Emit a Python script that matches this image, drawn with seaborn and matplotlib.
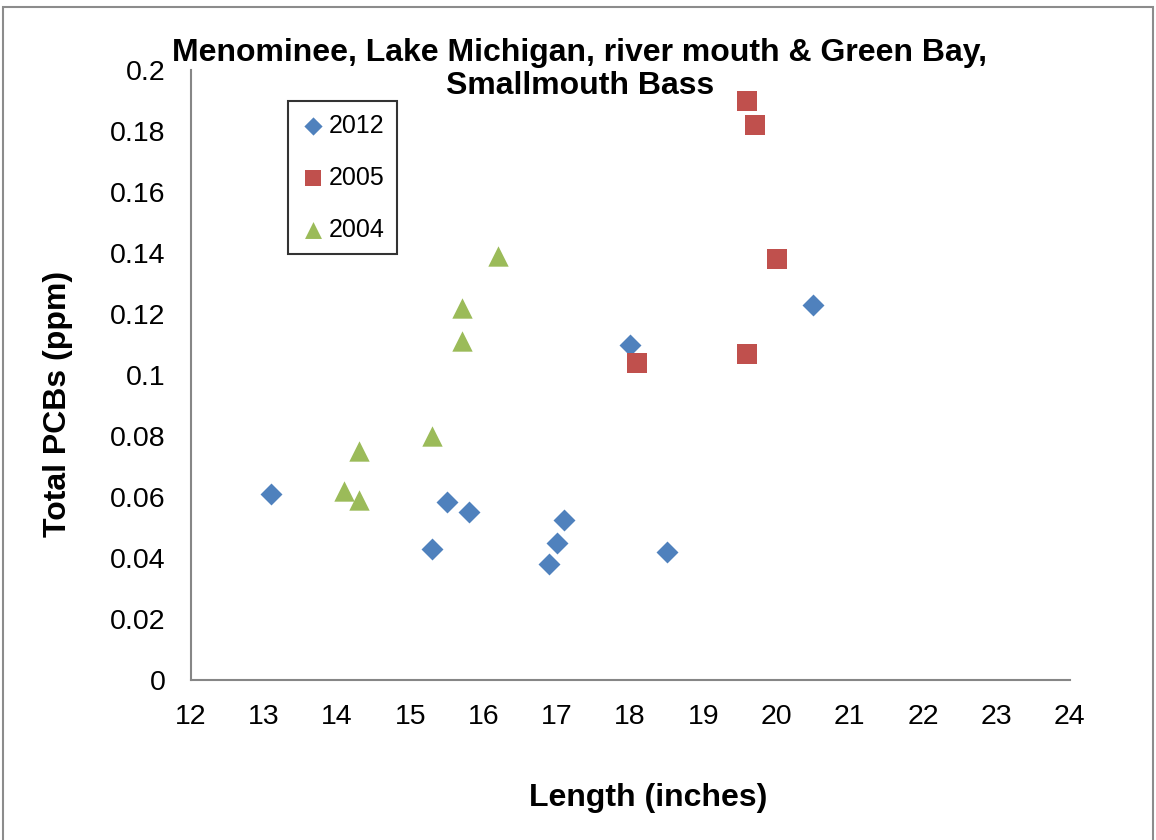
import matplotlib
matplotlib.use("Agg")
import matplotlib.pyplot as plt
import pandas as pd
import seaborn as sns
from matplotlib.patches import Rectangle

# lengths (inches) and total PCBs (ppm) per sampling year
len_2012 = [13.1, 15.3, 15.5, 15.8, 16.9, 17.0, 17.1, 18.5, 18.0, 20.5]
pcb_2012 = [0.061, 0.043, 0.0585, 0.055, 0.038, 0.045, 0.0525, 0.042, 0.110, 0.123]
len_2005 = [19.6, 19.7, 20.0, 18.1, 19.6]
pcb_2005 = [0.190, 0.182, 0.138, 0.104, 0.107]
len_2004 = [16.2, 15.7, 15.7, 15.3, 14.3, 14.1, 14.3]
pcb_2004 = [0.139, 0.122, 0.111, 0.080, 0.075, 0.062, 0.059]

years = ["2012", "2005", "2004"]
colors = {"2012": "#4F81BD", "2005": "#C0504D", "2004": "#9BBB59"}
markers = {"2012": "D", "2005": "s", "2004": "^"}
sizes = {"2012": 125, "2005": 212, "2004": 215}

df = pd.DataFrame({
    "Length": len_2012 + len_2005 + len_2004,
    "PCB": pcb_2012 + pcb_2005 + pcb_2004,
    "Year": ["2012"] * len(len_2012) + ["2005"] * len(len_2005) + ["2004"] * len(len_2004),
})

sns.set_style("white")
plt.rcParams["font.family"] = ["Liberation Sans", "DejaVu Sans"]
plt.rcParams["text.color"] = "black"
plt.rcParams["xtick.color"] = "black"
plt.rcParams["ytick.color"] = "black"
plt.rcParams["axes.labelcolor"] = "black"

fig = plt.figure(figsize=(11.56, 8.40), dpi=100)
ax = fig.add_axes([190.5 / 1156, 160 / 840, 879 / 1156, 610 / 840])

for yr in years:
    sns.scatterplot(data=df[df["Year"] == yr], x="Length", y="PCB",
                    color=colors[yr], marker=markers[yr], s=sizes[yr],
                    linewidth=0, label=yr, ax=ax)

ax.set_xlim(12, 24)
ax.set_ylim(0, 0.2)
ax.set_xticks(range(12, 25))
ax.set_yticks([i * 0.02 for i in range(11)])
ax.set_yticklabels(["0", "0.02", "0.04", "0.06", "0.08", "0.1", "0.12",
                    "0.14", "0.16", "0.18", "0.2"])
for s in ["top", "right"]:
    ax.spines[s].set_visible(False)
for s in ["left", "bottom"]:
    ax.spines[s].set_color("#868686")
    ax.spines[s].set_linewidth(1.5)
ax.tick_params(axis="both", direction="out", length=8, width=1.5,
               color="#868686", labelsize=20.5, pad=10)
ax.tick_params(axis="x", pad=9)

ax.set_xlabel("Length (inches)", fontsize=23, fontweight="bold")
ax.set_ylabel("Total PCBs (ppm)", fontsize=23, fontweight="bold")
ax.xaxis.set_label_coords(0.5205, -0.169)
ax.yaxis.set_label_coords(-0.1337, 0.4525)

fig.text(0.5017, 0.955, "Menominee, Lake Michigan, river mouth & Green Bay,\nSmallmouth Bass",
         ha="center", va="top", fontsize=23, fontweight="bold", linespacing=1.15)

leg = ax.legend(loc="upper left", bbox_to_anchor=(0.111, 0.949),
                borderaxespad=0, fontsize=18, frameon=True, fancybox=False,
                edgecolor="black", handletextpad=0.15, labelspacing=1.12,
                borderpad=0.5, markerscale=0.83, handlelength=0.96)
leg.get_frame().set_linewidth(1.5)

fig.patches.append(Rectangle((3 / 1156, -0.01), 1150 / 1156, 1 - 7 / 840 + 0.01,
                             transform=fig.transFigure, fill=False,
                             edgecolor="#8c8c8c", linewidth=1.5))

fig.savefig("out.png", dpi=100)
